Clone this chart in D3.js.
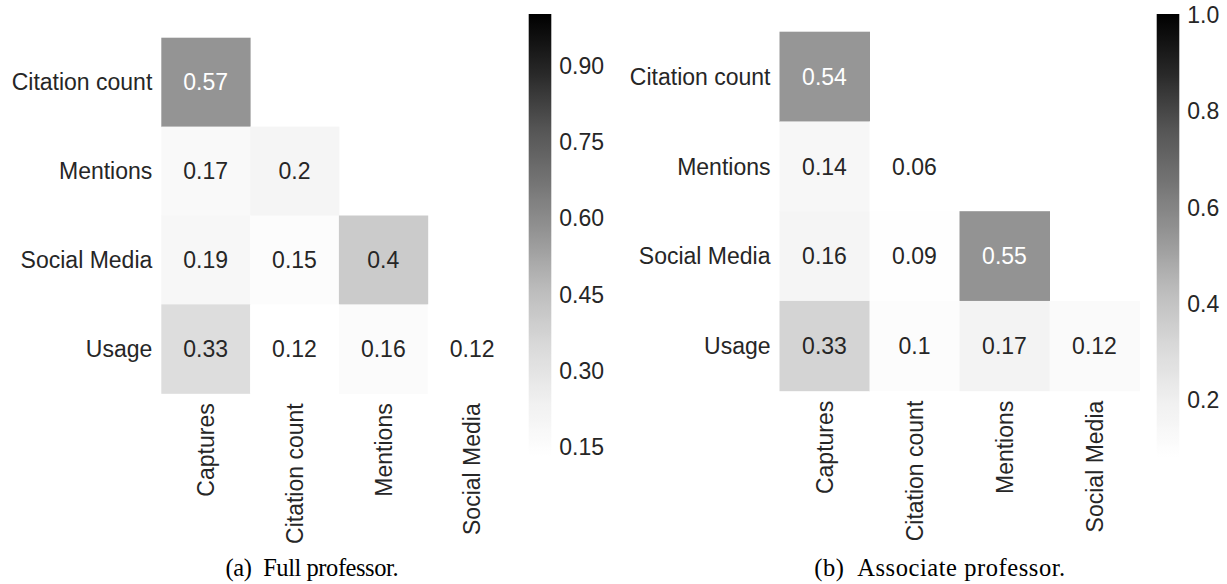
<!DOCTYPE html>
<html>
<head>
<meta charset="utf-8">
<script src="https://cdn.jsdelivr.net/npm/d3@7"></script>
<style>
  html, body { margin: 0; padding: 0; background: #ffffff; }
  svg { display: block; }
</style>
</head>
<body>
<svg id="chart" width="1227" height="584"></svg>
<script>
// ---------------- data ----------------
const rowLabels = ["Citation count", "Mentions", "Social Media", "Usage"];
const colLabels = ["Captures", "Citation count", "Mentions", "Social Media"];

// lower-triangle correlation values (row i has i+1 entries)
const fullProfValues = [
  [0.57],
  [0.17, 0.2],
  [0.19, 0.15, 0.4],
  [0.33, 0.12, 0.16, 0.12]
];
const assocProfValues = [
  [0.54],
  [0.14, 0.06],
  [0.16, 0.09, 0.55],
  [0.33, 0.1, 0.17, 0.12]
];

const fullProfRange = [0.13, 1.0];
const assocProfRange = [0.08, 1.0];
const fullProfTicks = [0.15, 0.30, 0.45, 0.60, 0.75, 0.90];
const assocProfTicks = [0.2, 0.4, 0.6, 0.8, 1.0];

const fullProfCaption = "(a)\u2002Full professor.";
const assocProfCaption = "(b)\u2002Associate professor.";

const greys = ["#ffffff", "#f0f0f0", "#d9d9d9", "#bdbdbd", "#969696", "#737373", "#525252", "#252525", "#000000"];

// ---------------- drawing ----------------
const svg = d3.select("#chart");
const SANS = "'Liberation Sans', Arial, Helvetica, sans-serif";
const SERIF = "'Liberation Serif', 'Times New Roman', serif";
const TXT = "#262626";
const FS = 23;

const greyScale = d3.scaleLinear()
  .domain(d3.range(greys.length).map(i => i / (greys.length - 1)))
  .range(greys)
  .interpolate(d3.interpolateRgb)
  .clamp(true);

function luminance(c) {
  const rgb = d3.rgb(c);
  const lin = v => { v /= 255; return v <= 0.03928 ? v / 12.92 : Math.pow((v + 0.055) / 1.055, 2.4); };
  return 0.2126 * lin(rgb.r) + 0.7152 * lin(rgb.g) + 0.0722 * lin(rgb.b);
}

function panel(opts) {
  const { values, range, ticks, tickFmt, hm, cb, caption, capX, capW, id } = opts;
  const g = svg.append("g");

  const x = d3.scaleBand().domain(colLabels).range([hm.x0, hm.x1]);
  const y = d3.scaleBand().domain(rowLabels).range([hm.y0, hm.y1]);
  const norm = d3.scaleLinear().domain(range).range([0, 1]).clamp(true);
  const color = v => greyScale(norm(v));

  const cells = [];
  values.forEach((row, i) => row.forEach((v, j) => cells.push({ r: rowLabels[i], c: colLabels[j], v })));

  g.selectAll("rect.cell").data(cells).join("rect")
    .attr("class", "cell")
    .attr("x", d => x(d.c))
    .attr("y", d => y(d.r))
    .attr("width", x.bandwidth() + 0.5)
    .attr("height", y.bandwidth() + 0.5)
    .attr("fill", d => color(d.v));

  g.selectAll("text.annot").data(cells).join("text")
    .attr("class", "annot")
    .attr("x", d => x(d.c) + x.bandwidth() / 2)
    .attr("y", d => y(d.r) + y.bandwidth() / 2)
    .attr("dy", "0.36em")
    .attr("text-anchor", "middle")
    .attr("font-family", SANS)
    .attr("font-size", FS)
    .attr("fill", d => luminance(color(d.v)) < 0.408 ? "#ffffff" : TXT)
    .text(d => String(d.v));

  // row labels
  const yAxis = g.append("g")
    .attr("transform", `translate(${hm.x0},0)`)
    .call(d3.axisLeft(y).tickSize(0).tickPadding(9));
  yAxis.select(".domain").remove();
  yAxis.selectAll("text")
    .attr("font-family", SANS).attr("font-size", FS).attr("fill", TXT).attr("dy", "0.36em");

  // column labels (rotated)
  const xAxis = g.append("g")
    .attr("transform", `translate(0,${hm.y1})`)
    .call(d3.axisBottom(x).tickSize(0).tickPadding(0));
  xAxis.select(".domain").remove();
  xAxis.selectAll("text")
    .attr("font-family", SANS).attr("font-size", FS).attr("fill", TXT)
    .attr("transform", "rotate(-90)")
    .attr("x", -10).attr("y", 0).attr("dy", "0.36em")
    .attr("text-anchor", "end");

  // colorbar
  const defs = svg.append("defs");
  const grad = defs.append("linearGradient").attr("id", id)
    .attr("x1", 0).attr("y1", 1).attr("x2", 0).attr("y2", 0);
  d3.range(0, 1.0001, 0.02).forEach(t => {
    grad.append("stop").attr("offset", t).attr("stop-color", greyScale(t));
  });
  g.append("rect")
    .attr("x", cb.x0).attr("y", cb.y0)
    .attr("width", cb.x1 - cb.x0).attr("height", cb.y1 - cb.y0)
    .attr("fill", `url(#${id})`);

  const cbScale = d3.scaleLinear().domain(range).range([cb.y1, cb.y0]);
  const cAxis = g.append("g")
    .attr("transform", `translate(${cb.x1},0)`)
    .call(d3.axisRight(cbScale).tickValues(ticks).tickFormat(d3.format(tickFmt)).tickSize(0).tickPadding(8));
  cAxis.select(".domain").remove();
  cAxis.selectAll("text")
    .attr("font-family", SANS).attr("font-size", FS).attr("fill", TXT).attr("dy", "0.36em");

  // caption
  g.append("text")
    .attr("x", capX).attr("y", 575.5)
    .attr("text-anchor", "middle")
    .attr("font-family", SERIF)
    .attr("font-size", 24.5)
    .attr("fill", "#000000")
    .attr("textLength", capW)
    .attr("lengthAdjust", "spacing")
    .text(caption);
}

panel({
  id: "cbA",
  values: fullProfValues, range: fullProfRange, ticks: fullProfTicks, tickFmt: ".2f",
  hm: { x0: 161.3, x1: 516.5, y0: 37.7, y1: 393.3 },
  cb: { x0: 528.7, x1: 551.3, y0: 14, y1: 456.7 },
  caption: fullProfCaption, capX: 312, capW: 173
});

panel({
  id: "cbB",
  values: assocProfValues, range: assocProfRange, ticks: assocProfTicks, tickFmt: ".1f",
  hm: { x0: 779.5, x1: 1139.5, y0: 31.7, y1: 390.7 },
  cb: { x0: 1156.7, x1: 1179.3, y0: 14, y1: 457.5 },
  caption: assocProfCaption, capX: 939.7, capW: 251
});
</script>
</body>
</html>
